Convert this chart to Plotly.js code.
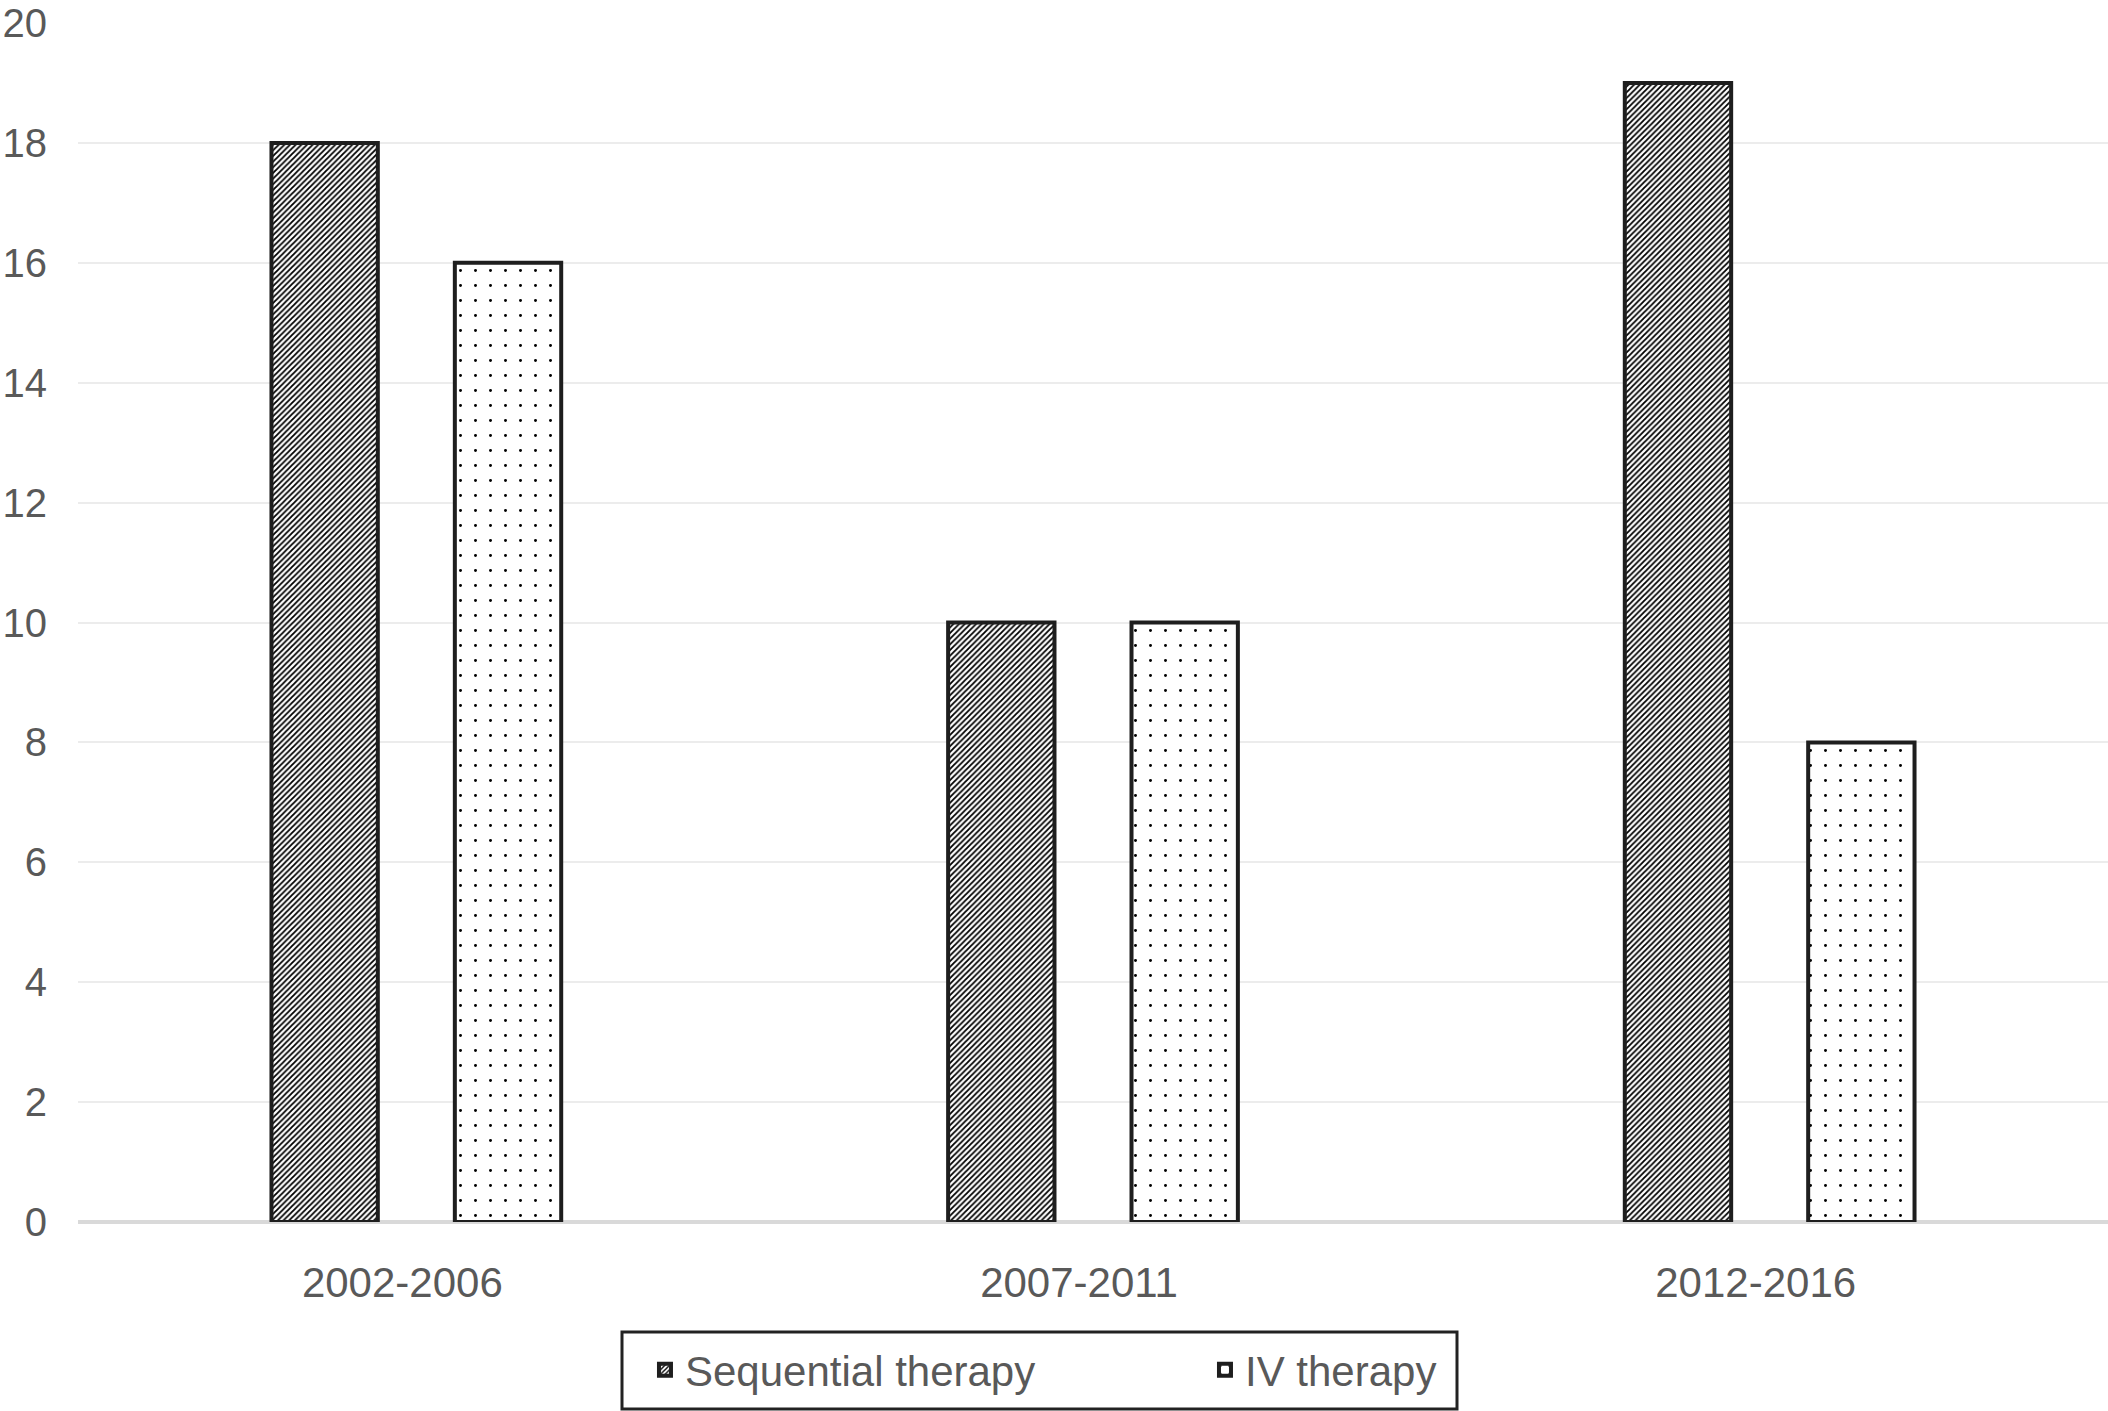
<!DOCTYPE html>
<html>
<head>
<meta charset="utf-8">
<script src="https://cdn.plot.ly/plotly-3.0.1.min.js"></script>
<style>
  html, body { margin: 0; padding: 0; background: #ffffff; }
  #chart { width: 2108px; height: 1411px; }
</style>
</head>
<body>
<div id="chart"></div>
<script>
const categories = ['2002-2006', '2007-2011', '2012-2016'];
const sequentialTherapy = [18, 10, 19];
const ivTherapy = [16, 10, 8];
const yTickValues = [0, 2, 4, 6, 8, 10, 12, 14, 16, 18, 20];
const seriesNames = ['Sequential therapy', 'IV therapy'];

const textGrey = '#595959';
const fontFamily = '"Liberation Sans", Arial, Helvetica, sans-serif';

const traces = [
  {
    type: 'bar',
    name: seriesNames[0],
    x: categories,
    y: sequentialTherapy,
    marker: {
      color: '#ffffff',
      line: { color: '#1e1e1e', width: 4 },
      pattern: { shape: '/', fgcolor: '#000000', bgcolor: '#ffffff', size: 4, solidity: 0.45, fillmode: 'replace' }
    },
    hoverinfo: 'x+y'
  },
  {
    type: 'bar',
    name: seriesNames[1],
    x: categories,
    y: ivTherapy,
    marker: {
      color: '#ffffff',
      line: { color: '#1e1e1e', width: 4 },
      pattern: { shape: '.', fgcolor: '#000000', bgcolor: '#ffffff', size: 15, solidity: 0.03, fillmode: 'replace' }
    },
    hoverinfo: 'x+y'
  }
];

const layout = {
  width: 2108,
  height: 1411,
  paper_bgcolor: '#ffffff',
  plot_bgcolor: '#ffffff',
  margin: { l: 78, r: 0, t: 23, b: 189 },
  barmode: 'group',
  bargap: 0.458,
  bargroupgap: 0.42,
  font: { family: fontFamily, color: textGrey, size: 40 },
  xaxis: {
    type: 'category',
    range: [-0.5, 2.5],
    showgrid: false,
    showline: false,
    zeroline: false,
    ticks: '',
    tickfont: { family: fontFamily, size: 42, color: textGrey },
    ticklabelstandoff: 32,
    ticklabelshift: -14,
    fixedrange: true
  },
  yaxis: {
    range: [0, 20],
    tickvals: yTickValues,
    ticktext: yTickValues.map(String),
    showgrid: true,
    gridcolor: '#ececec',
    gridwidth: 2,
    zeroline: true,
    zerolinecolor: '#d9d9d9',
    zerolinewidth: 4,
    showline: false,
    ticks: '',
    tickfont: { family: fontFamily, size: 40, color: textGrey },
    ticklabelstandoff: 30,
    fixedrange: true
  },
  showlegend: true,
  legend: {
    orientation: 'h',
    x: 0.2793,
    xanchor: 'left',
    y: -0.0951,
    yanchor: 'top',
    borderwidth: 0,
    bgcolor: 'rgba(0,0,0,0)',
    font: { family: fontFamily, size: 42, color: textGrey },
    entrywidth: 515,
    traceorder: 'normal'
  },
  shapes: [
    {
      type: 'rect',
      xref: 'paper', yref: 'paper',
      x0: (622 - 78) / 2030, x1: (1457 - 78) / 2030,
      y0: -(1332 - 1222) / 1199, y1: -(1409 - 1222) / 1199,
      line: { color: '#222222', width: 3 },
      fillcolor: 'rgba(0,0,0,0)',
      layer: 'below'
    }
  ]
};

Plotly.newPlot('chart', traces, layout, { displayModeBar: false, staticPlot: true });
</script>
</body>
</html>
